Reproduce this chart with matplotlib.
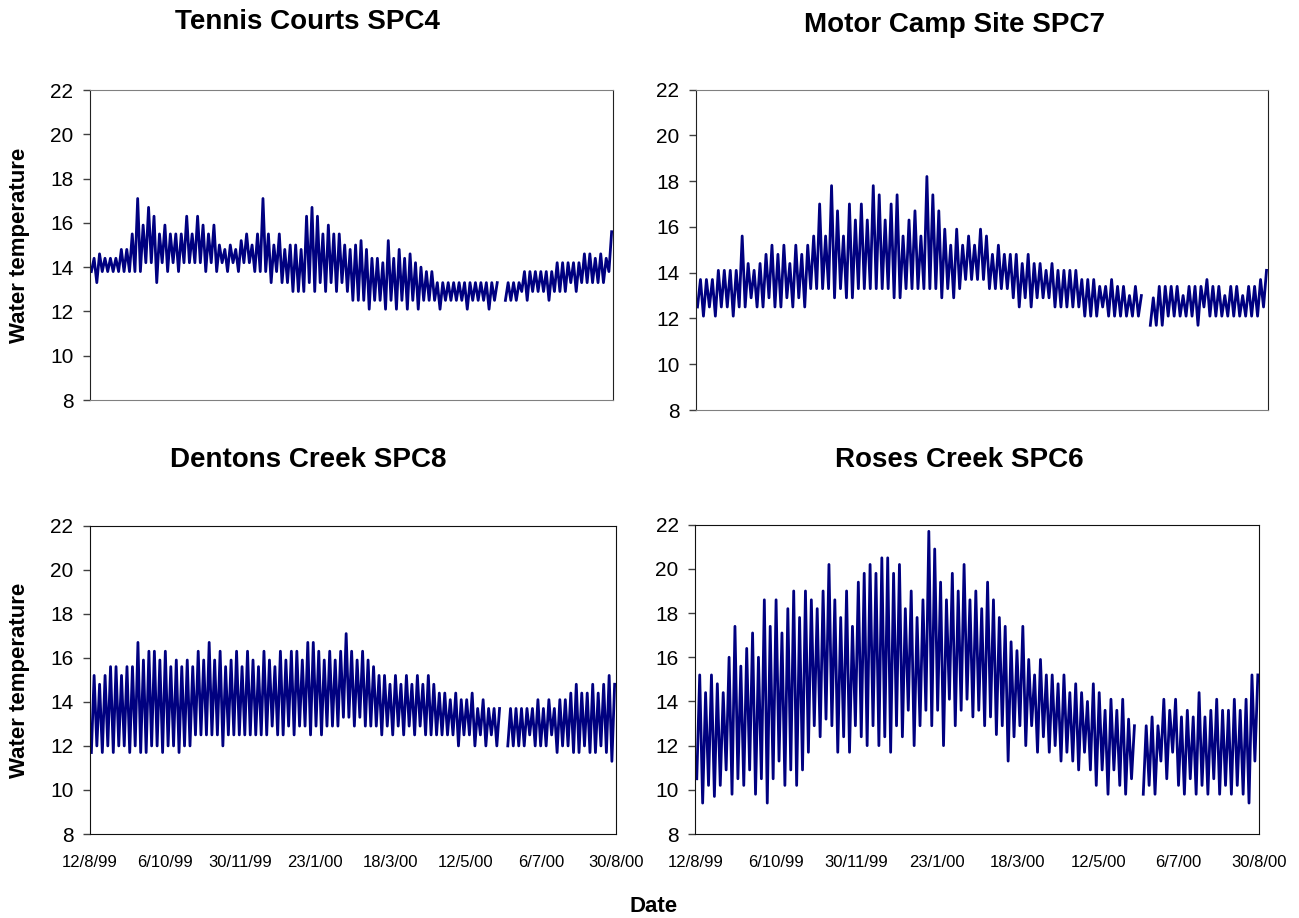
import numpy as np
import matplotlib.pyplot as plt

plt.rcParams['font.family'] = ['Liberation Sans', 'DejaVu Sans']

nan = np.nan

# x axis: days since 12/8/99, one sample = 4 days (daily low / high)
n_days = 384
step = 4
date_labels = ['12/8/99', '6/10/99', '30/11/99', '23/1/00',
               '18/3/00', '12/5/00', '6/7/00', '30/8/00']

# Tennis Courts SPC4
tennis_hi = [
    14.4, 14.6, 14.4, 14.4, 14.4, 14.8, 14.8, 15.5,
    17.1, 15.9, 16.7, 16.3, 15.5, 15.9, 15.5, 15.5,
    15.5, 16.3, 15.5, 16.3, 15.9, 15.5, 15.9, 15.0,
    14.8, 15.0, 14.8, 15.2, 15.5, 15.0, 15.5, 17.1,
    15.5, 15.0, 15.5, 14.8, 15.0, 15.0, 14.8, 16.3,
    16.7, 16.3, 15.5, 15.9, 15.5, 15.5, 15.0, 14.8,
    15.0, 15.2, 14.8, 14.4, 14.4, 14.2, 15.2, 14.4,
    14.8, 14.4, 14.6, 14.2, 14.0, 13.8, 13.8, 13.3,
    13.3, 13.3, 13.3, 13.3, 13.3, 13.3, 13.3, 13.3,
    13.3, 13.3, 13.3, nan, 13.3, 13.3, 13.3, 13.8,
    13.8, 13.8, 13.8, 13.8, 13.8, 14.2, 14.2, 14.2,
    14.2, 14.2, 14.6, 14.6, 14.4, 14.6, 14.4, 15.6]
tennis_lo = [
    13.8, 13.3, 13.8, 13.8, 13.8, 13.8, 13.8, 13.8,
    13.8, 13.8, 14.2, 14.2, 13.3, 14.2, 13.8, 14.2,
    13.8, 14.2, 14.2, 14.2, 14.2, 13.8, 14.2, 13.8,
    14.2, 13.8, 14.2, 13.8, 14.2, 14.2, 13.8, 13.8,
    13.8, 13.3, 13.8, 13.3, 13.3, 12.9, 12.9, 12.9,
    13.3, 12.9, 13.3, 12.9, 13.3, 12.9, 13.3, 12.9,
    12.5, 12.5, 12.5, 12.1, 12.5, 12.5, 12.1, 12.5,
    12.1, 12.5, 12.1, 12.5, 12.1, 12.5, 12.5, 12.5,
    12.1, 12.5, 12.5, 12.5, 12.5, 12.1, 12.5, 12.5,
    12.5, 12.1, 12.5, nan, 12.5, 12.5, 12.5, 12.9,
    12.5, 12.9, 12.9, 12.9, 12.5, 12.9, 12.9, 12.9,
    13.3, 12.9, 13.3, 13.3, 13.3, 13.3, 13.3, 13.8]

# Motor Camp Site SPC7
motor_hi = [
    13.7, 13.7, 13.7, 14.1, 14.1, 14.1, 14.1, 15.6,
    14.4, 14.1, 14.4, 14.8, 15.2, 14.8, 15.2, 14.4,
    15.2, 14.8, 15.2, 15.6, 17.0, 15.6, 17.8, 16.7,
    15.6, 17.0, 16.3, 17.0, 16.3, 17.8, 17.4, 16.3,
    17.0, 17.4, 15.6, 16.3, 16.7, 15.6, 18.2, 17.4,
    16.7, 15.9, 15.2, 15.9, 15.2, 15.6, 15.2, 15.9,
    15.6, 14.8, 15.2, 14.8, 14.8, 14.8, 14.4, 14.8,
    14.4, 14.4, 14.1, 14.4, 14.1, 14.1, 14.1, 14.1,
    13.7, 13.7, 13.7, 13.4, 13.4, 13.7, 13.4, 13.4,
    13.0, 13.4, 13.0, nan, 12.9, 13.4, 13.4, 13.4,
    13.4, 13.0, 13.4, 13.4, 13.4, 13.7, 13.4, 13.4,
    13.0, 13.4, 13.4, 13.0, 13.4, 13.4, 13.7, 14.1]
motor_lo = [
    12.5, 12.1, 12.5, 12.1, 12.5, 12.5, 12.1, 12.5,
    12.5, 12.9, 12.5, 12.5, 12.9, 12.5, 12.5, 12.9,
    12.5, 12.9, 12.5, 13.3, 13.3, 13.3, 13.3, 12.9,
    13.3, 12.9, 12.9, 13.3, 13.3, 13.3, 13.3, 13.3,
    13.3, 12.9, 12.9, 13.3, 13.3, 13.3, 13.3, 13.3,
    13.3, 12.9, 13.3, 12.9, 13.3, 13.7, 13.7, 13.7,
    13.7, 13.3, 13.3, 13.3, 13.3, 12.9, 12.5, 12.9,
    12.5, 12.9, 12.9, 12.9, 12.5, 12.5, 12.5, 12.5,
    12.5, 12.1, 12.1, 12.1, 12.5, 12.1, 12.1, 12.1,
    12.1, 12.1, 12.1, nan, 11.7, 11.7, 11.7, 12.1,
    12.1, 12.1, 12.1, 12.1, 11.7, 12.5, 12.1, 12.1,
    12.1, 12.1, 12.1, 12.1, 12.1, 12.1, 12.1, 12.5]

# Dentons Creek SPC8
dentons_hi = [
    15.2, 14.8, 15.2, 15.6, 15.6, 15.2, 15.6, 15.6,
    16.7, 15.9, 16.3, 16.3, 15.9, 16.3, 15.6, 15.9,
    15.6, 15.9, 15.6, 16.3, 15.9, 16.7, 15.9, 16.3,
    15.6, 15.9, 16.3, 15.6, 16.3, 15.9, 15.6, 16.3,
    15.9, 15.6, 16.3, 15.9, 16.3, 16.3, 15.9, 16.7,
    16.7, 16.3, 15.9, 16.3, 15.9, 16.3, 17.1, 16.3,
    15.9, 16.3, 15.9, 15.6, 15.2, 15.2, 14.8, 15.2,
    14.8, 15.2, 14.8, 15.2, 14.8, 15.2, 14.8, 14.4,
    14.4, 14.1, 14.4, 14.1, 14.1, 14.4, 13.7, 14.1,
    13.7, 13.7, 13.7, nan, 13.7, 13.7, 13.7, 13.7,
    13.7, 14.1, 13.7, 14.1, 13.7, 14.1, 14.1, 14.4,
    14.8, 14.4, 14.4, 14.8, 14.4, 14.8, 15.2, 14.8]
dentons_lo = [
    11.7, 12.0, 11.7, 12.0, 11.7, 12.0, 12.0, 11.7,
    12.0, 11.7, 11.7, 12.0, 12.0, 11.7, 12.0, 12.0,
    11.7, 12.0, 12.0, 12.5, 12.5, 12.5, 12.5, 12.5,
    12.0, 12.5, 12.5, 12.5, 12.5, 12.5, 12.5, 12.5,
    12.5, 12.9, 12.5, 12.5, 12.9, 12.5, 12.9, 12.9,
    12.5, 12.9, 12.5, 12.9, 12.9, 12.9, 13.3, 13.3,
    12.9, 13.3, 12.9, 12.9, 12.9, 12.5, 12.9, 12.5,
    12.9, 12.5, 12.9, 12.5, 12.9, 12.5, 12.5, 12.5,
    12.5, 12.5, 12.5, 12.0, 12.5, 12.5, 12.0, 12.5,
    12.0, 12.5, 12.0, nan, 12.0, 12.0, 12.0, 12.0,
    12.5, 12.0, 12.0, 12.0, 12.5, 11.7, 12.0, 12.0,
    11.7, 11.7, 12.0, 11.7, 11.7, 12.0, 11.7, 11.3]

# Roses Creek SPC6
roses_hi = [
    15.2, 14.4, 15.2, 14.8, 14.4, 16.0, 17.4, 15.6,
    16.4, 17.1, 16.0, 18.6, 17.4, 18.6, 17.1, 18.2,
    19.0, 17.8, 19.0, 18.6, 18.2, 19.0, 20.2, 18.6,
    17.8, 19.0, 17.4, 19.4, 19.8, 20.2, 19.8, 20.5,
    20.5, 19.8, 20.2, 18.2, 19.0, 17.8, 18.6, 21.7,
    20.9, 19.4, 18.6, 19.8, 19.0, 20.2, 18.6, 19.0,
    18.2, 19.4, 18.6, 17.8, 17.4, 16.7, 16.3, 17.4,
    15.9, 15.2, 15.9, 15.2, 15.2, 14.8, 15.2, 14.4,
    14.8, 14.4, 14.0, 14.8, 14.4, 13.6, 14.1, 13.6,
    14.1, 13.2, 12.9, nan, 12.9, 13.3, 12.9, 14.1,
    13.6, 14.1, 13.3, 13.6, 13.3, 14.4, 13.3, 13.6,
    14.1, 13.6, 13.6, 14.1, 13.6, 14.1, 15.2, 15.2]
roses_lo = [
    10.5, 9.4, 10.2, 9.7, 10.2, 10.9, 9.8, 10.5,
    10.2, 10.9, 9.8, 10.5, 9.4, 10.5, 11.3, 10.2,
    10.9, 10.2, 10.9, 11.7, 12.9, 12.4, 13.2, 12.9,
    11.7, 12.4, 11.7, 12.9, 12.4, 12.0, 12.9, 12.0,
    12.4, 11.7, 12.9, 12.4, 13.6, 12.0, 12.9, 13.6,
    12.9, 13.6, 12.0, 14.1, 12.9, 13.6, 14.1, 13.3,
    13.6, 12.9, 13.3, 12.5, 12.9, 11.3, 12.4, 12.9,
    12.0, 12.9, 11.7, 12.4, 11.7, 12.0, 11.3, 11.7,
    11.3, 10.9, 11.7, 10.9, 10.2, 10.9, 9.8, 10.9,
    10.2, 9.8, 10.5, nan, 9.8, 10.2, 9.8, 11.3,
    10.5, 11.7, 10.2, 9.8, 10.5, 9.8, 10.2, 9.8,
    10.5, 9.8, 10.2, 9.8, 10.2, 9.8, 9.4, 11.3]

panels = [
    ('Tennis Courts SPC4', tennis_lo, tennis_hi),
    ('Motor Camp Site SPC7', motor_lo, motor_hi),
    ('Dentons Creek SPC8', dentons_lo, dentons_hi),
    ('Roses Creek SPC6', roses_lo, roses_hi),
]

W, H = 1299, 918
# axes boxes in pixels: left, top, right, bottom
boxes = [(90, 90, 613, 400), (696, 89.5, 1268, 410),
         (90, 525.7, 616, 834), (695.3, 524.7, 1259.3, 834)]
title_pos = [(307, 22), (955, 25), (308, 460), (959, 460)]


def zigzag(lo, hi):
    idx = np.arange(len(lo))
    x = np.column_stack([idx * step + 1, idx * step + 3]).ravel()
    y = np.column_stack([lo, hi]).ravel()
    return x, y


fig = plt.figure(figsize=(W / 100, H / 100), dpi=100)

for k, (name, lo, hi) in enumerate(panels):
    l, t, r, b = boxes[k]
    ax = fig.add_axes([l / W, 1 - b / H, (r - l) / W, (b - t) / H])
    x, y = zigzag(lo, hi)
    ax.plot(x, y, color='#000080', lw=2.0)
    ax.set_xlim(0, n_days)
    ax.set_ylim(8, 22)
    ax.set_yticks(range(8, 23, 2))
    ax.tick_params(axis='y', labelsize=15, length=5, width=1, color='#404040', pad=7)
    ax.set_xticks(np.linspace(0, n_days, len(date_labels)))
    if k >= 2:
        ax.set_xticklabels(date_labels)
        ax.tick_params(axis='x', labelsize=12, length=0, pad=15)
        for s in ax.spines.values():
            s.set_color('#111111')
    else:
        ax.set_xticklabels([])
        ax.tick_params(axis='x', length=0)
        for s in ax.spines.values():
            s.set_color('#808080')
        ax.spines['left'].set_color('#222222')
        ax.spines['right'].set_color('#222222')
    tx, ty = title_pos[k]
    fig.text(tx / W, 1 - ty / H, name, ha='center', va='center',
             fontsize=20, fontweight='bold')

for yc in (245, 680):
    fig.text(20 / W, 1 - yc / H, 'Water temperature', rotation=90,
             ha='center', va='center', fontsize=16, fontweight='bold')
fig.text(654 / W, 1 - 907 / H, 'Date', ha='center', va='center',
         fontsize=16, fontweight='bold')

fig.savefig('out.png', dpi=100)
